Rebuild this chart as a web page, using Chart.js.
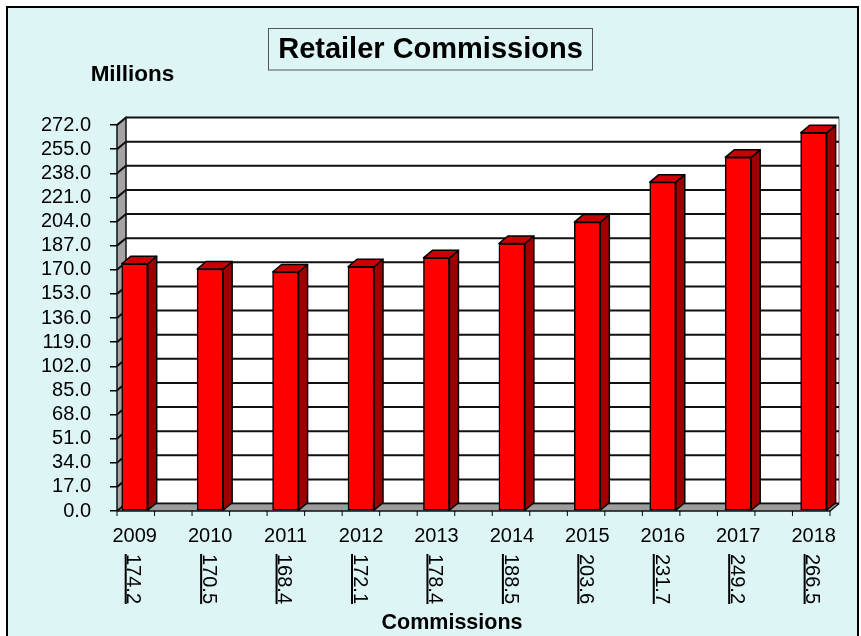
<!DOCTYPE html>
<html>
<head>
<meta charset="utf-8">
<script src="https://cdn.jsdelivr.net/npm/chart.js@4"></script>
<style>
  html, body { margin: 0; padding: 0; background: #fff; }
  #wrap { position: relative; width: 861px; height: 636px; }
</style>
</head>
<body>
<div id="wrap"><canvas id="commissionsChart"></canvas></div>
<script>
const years = ["2009", "2010", "2011", "2012", "2013", "2014", "2015", "2016", "2017", "2018"];
const commissions = [174.2, 170.5, 168.4, 172.1, 178.4, 188.5, 203.6, 231.7, 249.2, 266.5];
const yMin = 0;
const yMax = 272;
const yStep = 17;

const FONT = "'Liberation Sans', Arial, sans-serif";
const DX = 9, DY = -7.5; // 3d depth offset

const frame3d = {
  id: "frame3d",
  beforeDraw(chart) {
    const c = chart.ctx;
    c.save();
    c.fillStyle = "#fff";
    c.fillRect(0, 0, chart.width, chart.height);
    c.fillStyle = "#DEF5F6";
    c.fillRect(7, 7, 851, 640);
    c.strokeStyle = "#000";
    c.lineWidth = 2;
    c.strokeRect(7, 7, 851, 640);

    // title box
    c.lineWidth = 1;
    c.strokeStyle = "#555";
    c.strokeRect(268.5, 28.5, 324, 41.5);
    c.fillStyle = "#000";
    c.textAlign = "center";
    c.textBaseline = "middle";
    c.font = "bold 29px " + FONT;
    c.fillText("Retailer Commissions", 430.5, 50);

    c.font = "bold 22.5px " + FONT;
    c.fillText("Millions", 132.5, 75);

    c.font = "bold 21.5px " + FONT;
    c.fillText("Commissions", 452, 623);
    c.restore();
  },
  beforeDatasetsDraw(chart) {
    const c = chart.ctx;
    const { left: L, right: R, top: T, bottom: B } = chart.chartArea;
    const ys = chart.scales.y;
    c.save();
    // back wall
    c.fillStyle = "#fff";
    c.fillRect(L + DX, T + DY, R - L, B - T);
    c.strokeStyle = "#999";
    c.lineWidth = 1.5;
    c.beginPath();
    c.moveTo(R + DX, T + DY);
    c.lineTo(R + DX, B + DY);
    c.stroke();
    // left wall
    c.fillStyle = "#A4A4A4";
    c.beginPath();
    c.moveTo(L, T);
    c.lineTo(L + DX, T + DY);
    c.lineTo(L + DX, B + DY);
    c.lineTo(L, B);
    c.closePath();
    c.fill();
    // floor
    c.fillStyle = "#9C9C9C";
    c.beginPath();
    c.moveTo(L, B);
    c.lineTo(R, B);
    c.lineTo(R + DX, B + DY);
    c.lineTo(L + DX, B + DY);
    c.closePath();
    c.fill();
    c.strokeStyle = "#CFCFCF";
    c.lineWidth = 1;
    c.beginPath();
    c.moveTo(L + DX, B + DY + 1);
    c.lineTo(R + DX, B + DY + 1);
    c.stroke();
    // grid lines on walls
    c.strokeStyle = "#111";
    c.lineWidth = 2;
    for (let v = yMin; v <= yMax; v += yStep) {
      const y = ys.getPixelForValue(v);
      c.beginPath();
      c.moveTo(L, y);
      c.lineTo(L + DX, y + DY);
      c.lineTo(R + DX, y + DY);
      c.stroke();
    }
    // wall edges
    c.lineWidth = 1.5;
    c.beginPath();
    c.moveTo(L, B);
    c.lineTo(L, T);
    c.lineTo(L + DX, T + DY);
    c.lineTo(L + DX, B + DY);
    c.stroke();
    c.beginPath();
    c.moveTo(L, B);
    c.lineTo(R, B);
    c.lineTo(R + DX, B + DY);
    c.stroke();
    // front tick marks
    c.lineWidth = 1;
    c.strokeStyle = "#000";
    const n = 19;
    for (let k = 0; k <= n; k++) {
      const x = L + k * (R - L) / n;
      c.beginPath();
      c.moveTo(x, B);
      c.lineTo(x, B + 5);
      c.stroke();
    }
    c.restore();
  },
  afterDatasetsDraw(chart) {
    const c = chart.ctx;
    const meta = chart.getDatasetMeta(0);
    c.save();
    c.strokeStyle = "#000";
    c.lineWidth = 1.5;
    c.lineJoin = "round";
    meta.data.forEach((bar, i) => {
      const { x, y, base, width } = bar.getProps(["x", "y", "base", "width"], true);
      const l = x - width / 2, r = x + width / 2;
      // side face
      c.fillStyle = "#9E0000";
      c.beginPath();
      c.moveTo(r, y);
      c.lineTo(r + DX, y + DY);
      c.lineTo(r + DX, base + DY);
      c.lineTo(r, base);
      c.closePath();
      c.fill();
      c.stroke();
      // top face
      c.fillStyle = "#CC0000";
      c.beginPath();
      c.moveTo(l, y);
      c.lineTo(l + DX, y + DY);
      c.lineTo(r + DX, y + DY);
      c.lineTo(r, y);
      c.closePath();
      c.fill();
      c.stroke();

      // data table value, rotated
      const label = commissions[i].toFixed(1);
      c.save();
      c.translate(x, 579);
      c.rotate(Math.PI / 2);
      c.font = "20px " + FONT;
      c.fillStyle = "#000";
      c.textAlign = "center";
      c.textBaseline = "alphabetic";
      c.fillText(label, 0, 7.2);
      const w = c.measureText(label).width;
      c.fillRect(-w / 2, 8, w, 2);
      c.restore();
    });
    c.restore();
  }
};

const ctx = document.getElementById("commissionsChart");

new Chart(ctx, {
  type: "bar",
  data: {
    datasets: [
      {
        label: "Commissions",
        data: commissions.map((v, i) => ({ x: i, y: v })),
        backgroundColor: "#FF0000",
        borderColor: "#000",
        borderWidth: 1.5,
        borderSkipped: false,
        barThickness: 26,
      },
    ],
  },
  options: {
    responsive: true,
    maintainAspectRatio: false,
    animation: false,
    layout: {
      padding: { left: 0, right: 31, top: 125, bottom: 0 },
    },
    plugins: {
      legend: { display: false },
      tooltip: { enabled: false },
    },
    scales: {
      x: {
        type: "linear",
        offset: false,
        min: -0.2346,
        max: 9.217,
        afterFit: (scale) => { scale.height = 125; },
        grid: { display: false, drawTicks: false, offset: false },
        border: { display: false },
        ticks: {
          stepSize: 1,
          includeBounds: false,
          autoSkip: false,
          maxRotation: 0,
          padding: 13,
          color: "#000",
          font: { family: FONT, size: 20 },
          callback: (v) => (Number.isInteger(v) && years[v] ? years[v] : ""),
        },
      },
      y: {
        min: yMin,
        max: yMax,
        afterFit: (scale) => { scale.width = 117; },
        grid: {
          drawOnChartArea: false,
          drawTicks: true,
          tickLength: 7,
          color: "#000",
          lineWidth: 1.5,
        },
        border: { display: false },
        ticks: {
          stepSize: yStep,
          autoSkip: false,
          padding: 19,
          color: "#000",
          font: { family: FONT, size: 20 },
          callback: (v) => v.toFixed(1),
        },
      },
    },
  },
  plugins: [frame3d],
});
</script>
</body>
</html>
